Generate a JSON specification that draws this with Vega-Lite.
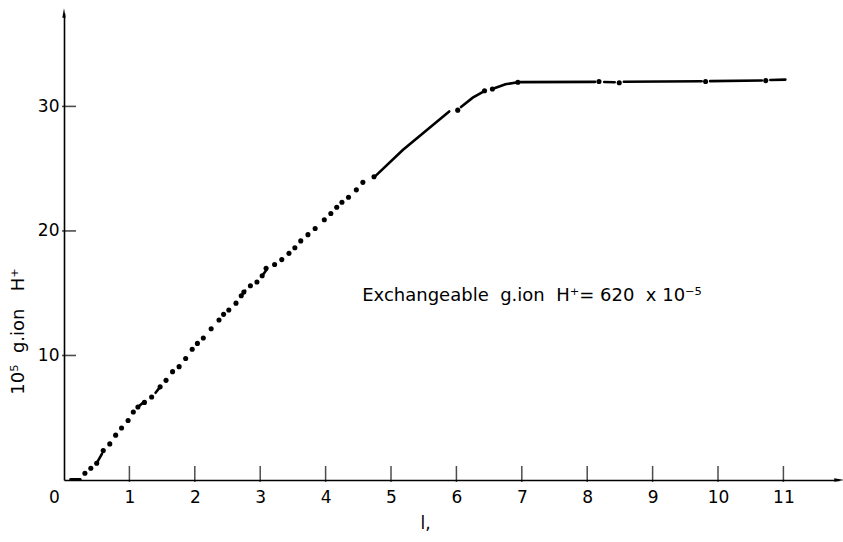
{
  "$schema": "https://vega.github.io/schema/vega-lite/v6.json",
  "width": 775,
  "height": 467,
  "autosize": "none",
  "padding": {"left": 64, "top": 13, "right": 4, "bottom": 62},
  "background": "white",
  "config": {"view": {"stroke": null}, "font": "DejaVu Sans"},
  "datasets": {
    "segs": [
      {"x": 0.1, "y": 0.05, "seg": "base"}, {"x": 0.25, "y": 0.05, "seg": "base"},
      {"x": 0.5, "y": 1.35, "seg": "a"}, {"x": 0.58, "y": 2.1, "seg": "a"},
      {"x": 1.13, "y": 5.86, "seg": "b"}, {"x": 1.23, "y": 6.3, "seg": "b"},
      {"x": 1.4, "y": 7.0, "seg": "c"}, {"x": 1.47, "y": 7.48, "seg": "c"},
      {"x": 2.71, "y": 14.8, "seg": "d"}, {"x": 2.77, "y": 15.2, "seg": "d"},
      {"x": 3.03, "y": 16.4, "seg": "e"}, {"x": 3.1, "y": 16.9, "seg": "e"},
      {"x": 4.76, "y": 24.4, "seg": "A"}, {"x": 5.18, "y": 26.5, "seg": "A"}, {"x": 5.89, "y": 29.6, "seg": "A"},
      {"x": 6.07, "y": 29.95, "seg": "B"}, {"x": 6.25, "y": 30.7, "seg": "B"}, {"x": 6.42, "y": 31.2, "seg": "B"},
      {"x": 6.58, "y": 31.45, "seg": "C"}, {"x": 6.75, "y": 31.78, "seg": "C"}, {"x": 6.94, "y": 31.94, "seg": "C"},
      {"x": 6.98, "y": 31.95, "seg": "D"}, {"x": 8.12, "y": 31.97, "seg": "D"},
      {"x": 8.26, "y": 31.96, "seg": "E"}, {"x": 8.42, "y": 31.94, "seg": "E"},
      {"x": 8.56, "y": 31.98, "seg": "F"}, {"x": 9.75, "y": 32.02, "seg": "F"},
      {"x": 9.88, "y": 32.03, "seg": "G"}, {"x": 10.67, "y": 32.08, "seg": "G"},
      {"x": 10.8, "y": 32.12, "seg": "H"}, {"x": 11.03, "y": 32.15, "seg": "H"}
    ],
    "dots": [
      {"x": 0.32, "y": 0.54}, {"x": 0.41, "y": 0.94}, {"x": 0.5, "y": 1.35}, {"x": 0.6, "y": 2.36},
      {"x": 0.7, "y": 2.9}, {"x": 0.79, "y": 3.6}, {"x": 0.88, "y": 4.17}, {"x": 0.98, "y": 4.78},
      {"x": 1.06, "y": 5.46}, {"x": 1.13, "y": 5.86}, {"x": 1.23, "y": 6.23}, {"x": 1.34, "y": 6.67},
      {"x": 1.47, "y": 7.48}, {"x": 1.56, "y": 8.0}, {"x": 1.66, "y": 8.7}, {"x": 1.76, "y": 9.1},
      {"x": 1.86, "y": 9.76}, {"x": 1.96, "y": 10.5}, {"x": 2.04, "y": 10.97}, {"x": 2.13, "y": 11.4},
      {"x": 2.25, "y": 12.15}, {"x": 2.37, "y": 12.85}, {"x": 2.44, "y": 13.3}, {"x": 2.52, "y": 13.65},
      {"x": 2.63, "y": 14.2}, {"x": 2.71, "y": 14.8}, {"x": 2.75, "y": 15.1}, {"x": 2.85, "y": 15.6},
      {"x": 2.95, "y": 15.9}, {"x": 3.03, "y": 16.4}, {"x": 3.09, "y": 17.0}, {"x": 3.22, "y": 17.3},
      {"x": 3.33, "y": 17.7}, {"x": 3.44, "y": 18.2}, {"x": 3.53, "y": 18.65}, {"x": 3.62, "y": 19.2},
      {"x": 3.73, "y": 19.7}, {"x": 3.84, "y": 20.2}, {"x": 3.98, "y": 20.9}, {"x": 4.08, "y": 21.4},
      {"x": 4.17, "y": 21.9}, {"x": 4.25, "y": 22.3}, {"x": 4.35, "y": 22.7}, {"x": 4.47, "y": 23.3},
      {"x": 4.57, "y": 23.9}, {"x": 4.74, "y": 24.35},
      {"x": 6.02, "y": 29.7}, {"x": 6.43, "y": 31.26}, {"x": 6.55, "y": 31.4}, {"x": 6.94, "y": 31.94},
      {"x": 8.18, "y": 32.0}, {"x": 8.49, "y": 31.9}, {"x": 9.81, "y": 32.0}, {"x": 10.73, "y": 32.07}
    ],
    "xticks": [
      {"v": 1}, {"v": 2}, {"v": 3}, {"v": 4}, {"v": 5}, {"v": 6},
      {"v": 7}, {"v": 8}, {"v": 9}, {"v": 10}, {"v": 11}
    ],
    "yticks": [{"v": 10}, {"v": 20}, {"v": 30}],
    "arrows": [{"x": 0, "y": 37.5, "dir": "up"}, {"x": 11.85, "y": 0, "dir": "right"}],
    "note": [{"x": 4.56, "y": 14.75, "label": "Exchangeable\u00a0 g.ion\u00a0 H⁺= 620\u00a0 x\u00a010⁻⁵"}]
  },
  "layer": [
    {
      "data": {"name": "segs"},
      "mark": {"type": "line", "color": "black", "strokeWidth": 2.6, "strokeCap": "round"},
      "encoding": {
        "x": {
          "field": "x", "type": "quantitative",
          "scale": {"domain": [0, 11.85], "nice": false, "zero": false},
          "axis": {
            "values": [0, 1, 2, 3, 4, 5, 6, 7, 8, 9, 10, 11],
            "format": "d",
            "grid": false, "ticks": false,
            "domainColor": "black", "domainWidth": 1.6,
            "labelFontSize": 17, "labelColor": "black", "labelPadding": 9,
            "labelOffset": {"expr": "datum.value == 0 ? -10 : 0"},
            "labelFlush": false, "labelOverlap": false,
            "title": "l,", "titleFontSize": 17, "titleFontWeight": "normal", "titleColor": "black",
            "titleX": 361, "titleY": 43, "titleBaseline": "middle"
          }
        },
        "y": {
          "field": "y", "type": "quantitative",
          "scale": {"domain": [0, 37.5], "nice": false, "zero": false},
          "axis": {
            "values": [10, 20, 30],
            "format": "d",
            "grid": false, "ticks": false,
            "domainColor": "black", "domainWidth": 1.6,
            "labelFontSize": 17, "labelColor": "black", "labelPadding": 5,
            "title": "10⁵\u00a0 g.ion\u00a0\u00a0 H⁺", "titleFontSize": 18, "titleFontWeight": "normal", "titleColor": "black",
            "titleX": -46, "titleY": 318, "titleBaseline": "middle"
          }
        },
        "detail": {"field": "seg", "type": "nominal"}
      }
    },
    {
      "data": {"name": "xticks"},
      "mark": {"type": "tick", "color": "black", "orient": "vertical", "size": 16, "thickness": 1.5, "yOffset": -6},
      "encoding": {
        "x": {"field": "v", "type": "quantitative"},
        "y": {"datum": 0}
      }
    },
    {
      "data": {"name": "yticks"},
      "mark": {"type": "tick", "color": "black", "orient": "horizontal", "size": 14, "thickness": 1.6, "xOffset": 5},
      "encoding": {
        "y": {"field": "v", "type": "quantitative"},
        "x": {"datum": 0}
      }
    },
    {
      "data": {"name": "dots"},
      "mark": {"type": "point", "filled": true, "color": "black", "size": 26, "opacity": 1},
      "encoding": {
        "x": {"field": "x", "type": "quantitative"},
        "y": {"field": "y", "type": "quantitative"}
      }
    },
    {
      "data": {"name": "note"},
      "mark": {"type": "text", "align": "left", "baseline": "middle", "fontSize": 18, "color": "black"},
      "encoding": {
        "x": {"field": "x", "type": "quantitative"},
        "y": {"field": "y", "type": "quantitative"},
        "text": {"field": "label"}
      }
    },
    {
      "data": {"name": "arrows"},
      "mark": {"type": "point", "filled": true, "color": "black", "size": 90, "opacity": 1, "clip": false},
      "encoding": {
        "x": {"field": "x", "type": "quantitative"},
        "y": {"field": "y", "type": "quantitative"},
        "shape": {
          "field": "dir", "type": "nominal",
          "scale": {"domain": ["up", "right"], "range": ["M-0.35,1L0,-1L0.35,1Z", "M-1,-0.35L1,0L-1,0.35Z"]},
          "legend": null
        }
      }
    }
  ]
}
